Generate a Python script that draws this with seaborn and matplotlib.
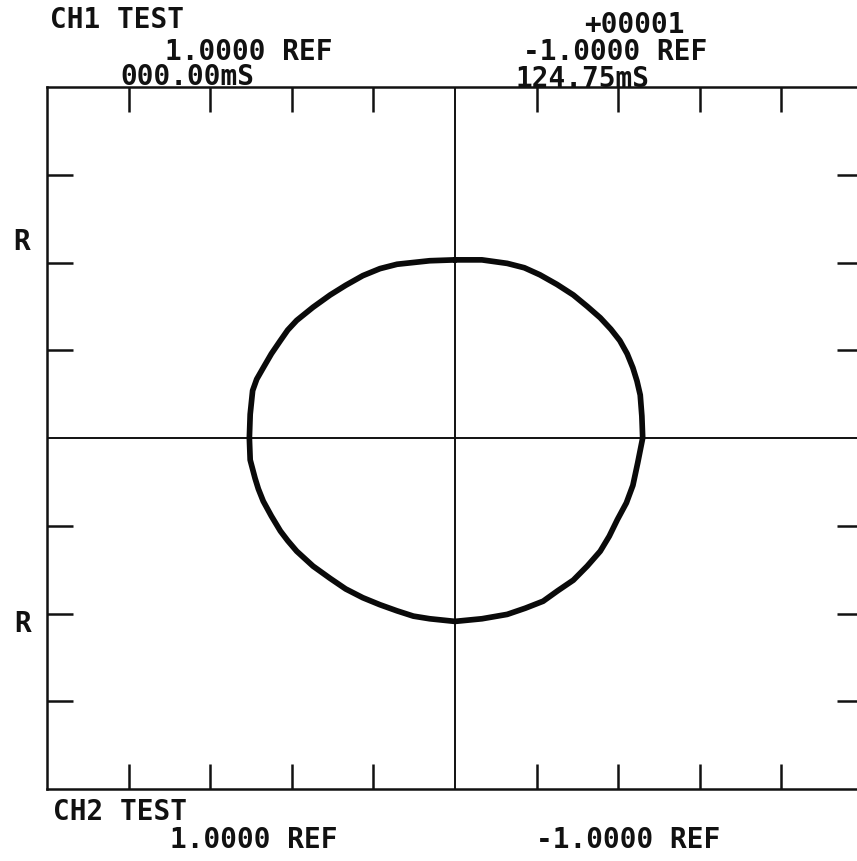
import matplotlib
matplotlib.use("Agg")
import matplotlib.pyplot as plt
import seaborn as sns
import pandas as pd

# ---- data (screen divisions) ----
trace_x = [0.00, -0.31, -0.71, -0.92, -1.13, -1.34, -1.53, -1.74, -1.94, -2.05,
           -2.14, -2.25, -2.35, -2.43, -2.48, -2.51, -2.52,
           -2.51, -2.45, -2.41, -2.35, -2.25, -2.14, -2.05, -1.94, -1.74,
           -1.53, -1.34, -1.13, -0.92, -0.71, -0.51, -0.31, 0.00,
           0.33, 0.64, 0.86, 1.08, 1.26, 1.45, 1.62, 1.78, 1.89, 1.99,
           2.10, 2.18, 2.24, 2.30,
           2.29, 2.27, 2.23, 2.18, 2.11, 2.02, 1.91, 1.78, 1.62, 1.45,
           1.25, 1.04, 0.85, 0.64, 0.33, 0.00]
trace_y = [2.03, 2.02, 1.98, 1.93, 1.85, 1.74, 1.63, 1.49, 1.34, 1.23,
           1.11, 0.96, 0.80, 0.67, 0.54, 0.27, 0.00,
           -0.25, -0.46, -0.58, -0.72, -0.89, -1.06, -1.17, -1.29, -1.46,
           -1.60, -1.72, -1.82, -1.90, -1.97, -2.03, -2.06, -2.09,
           -2.06, -2.01, -1.94, -1.86, -1.74, -1.62, -1.46, -1.29, -1.12, -0.93,
           -0.74, -0.54, -0.28, 0.00,
           0.25, 0.49, 0.65, 0.80, 0.96, 1.11, 1.24, 1.37, 1.50, 1.63,
           1.75, 1.86, 1.94, 1.99, 2.03, 2.03]
x_ticks = [-4, -3, -2, -1, 1, 2, 3, 4]
y_ticks = [-3, -2, -1, 1, 2, 3]

top_left_lines = ["CH1 TEST", "1.0000 REF", "000.00mS"]
top_right_lines = ["+00001", "-1.0000 REF", "124.75mS"]
bottom_left_lines = ["CH2 TEST", "1.0000 REF"]
bottom_right_lines = ["-1.0000 REF"]
side_labels = ["R", "R"]

df = pd.DataFrame({"x": trace_x, "y": trace_y})

sns.set_theme(style="ticks")
plt.rcParams["font.family"] = ["DejaVu Sans Mono", "DejaVu Sans"]

W, H = 857, 862
fig = plt.figure(figsize=(W / 100, H / 100), dpi=100)
fig.patch.set_facecolor("white")
ax = fig.add_axes([47 / W, 1 - 790 / H, 816 / W, 702 / H])
ax.set_facecolor("white")

sns.lineplot(data=df, x="x", y="y", sort=False, estimator=None, ax=ax,
             color="#0a0a0a", linewidth=4.1, solid_joinstyle="round",
             solid_capstyle="round")

ax.axhline(0, color="#111111", lw=1.4, zorder=1)
ax.axvline(0, color="#111111", lw=1.4, zorder=1)

ax.set_xlim(-5, 5)
ax.set_ylim(-4, 4)
ax.set_xticks(x_ticks)
ax.set_yticks(y_ticks)
ax.set_xticklabels([])
ax.set_yticklabels([])
ax.set_xlabel("")
ax.set_ylabel("")
ax.tick_params(axis="x", which="both", top=True, bottom=True, direction="in",
               length=18, width=1.8, color="#111111")
ax.tick_params(axis="y", which="both", left=True, right=True, direction="in",
               length=19, width=1.8, color="#111111")
for s in ax.spines.values():
    s.set_color("#111111")
    s.set_linewidth(1.8)

def put(text, cx, base, size=20):
    fig.text(cx / W, 1 - base / H, text, ha="center", va="baseline",
             fontsize=size, fontweight="bold", color="#111111")

put(top_left_lines[0], 117, 28)
put(top_left_lines[1], 249, 60)
put(top_left_lines[2], 187, 85)
put(top_right_lines[0], 634, 33)
put(top_right_lines[1], 615, 60)
put(top_right_lines[2], 583, 87)
put(bottom_left_lines[0], 120, 820)
put(bottom_left_lines[1], 254, 848)
put(bottom_right_lines[0], 628, 848)
put(side_labels[0], 22, 250)
put(side_labels[1], 23, 632)

fig.savefig("out.png", dpi=100, facecolor="white")
